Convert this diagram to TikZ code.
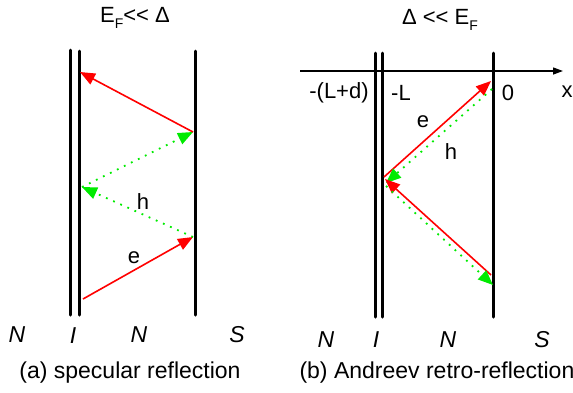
\documentclass[tikz,border=0pt]{standalone}
\usepackage{fontspec}
\setmainfont{Liberation Sans}[Ligatures=NoCommon]
\usetikzlibrary{arrows.meta}
\newcommand{\lltwo}{<\kern0pt<}
\begin{document}
\begin{tikzpicture}[x=1pt,y=-1pt,
  wall/.style={line width=3pt,line cap=round},
  eline/.style={red,line width=1.6pt,-{Triangle[length=15pt,width=12pt]}},
  hline/.style={green,line width=1.8pt,dash pattern=on 1.8pt off 6pt,-{Triangle[length=15pt,width=12pt]}},
  lab/.style={font=\fontsize{22}{24}\selectfont},
  reg/.style={font=\fontsize{23}{25}\selectfont\itshape},
  captext/.style={font=\fontsize{23}{25}\selectfont},
  ttl/.style={font=\fontsize{22}{24}\selectfont}]
\definecolor{green}{RGB}{0,235,0}
\useasboundingbox (0,0) rectangle (573,392);
% ---- left panel
\draw[wall] (70,50) -- (70,315);
\draw[wall] (79,51) -- (79,315);
\draw[wall] (195,51) -- (195,315);
\coordinate (a1) at (83,299);
\coordinate (a2) at (193,237);
\coordinate (a3) at (82,187);
\coordinate (a4) at (193,132);
\coordinate (a5) at (80,72);
\draw[eline] (a1) -- (a2);
\draw[hline] (a2) -- (a3);
\draw[hline] (a3) -- (a4);
\draw[eline] (a4) -- (a5);
\node[lab] (le) at (134,258) {e};
\node[lab] (lh) at (143,202) {h};
\node[ttl] (lt) at (135,18) {E\raisebox{-0.55ex}{\fontsize{14}{14}\selectfont F}\lltwo{} Δ};
\node[reg] (lN1) at (17,335) {N};
\node[reg] (lI) at (73,336) {I};
\node[reg] (lN2) at (139,335) {N};
\node[reg] (lS) at (237,335) {S};
\node[captext] (lc) at (130,373) {(a) specular reflection};
% ---- right panel
\draw[wall] (375,53) -- (375,317);
\draw[wall] (382,53) -- (382,317);
\draw[wall] (493,53) -- (493,317);
\coordinate (x0) at (300,71);
\coordinate (x1) at (563,71);
\draw[line width=1.3pt,-{Triangle[length=10pt,width=7pt]}] (x0) -- (x1);
\node[lab] (m1) at (339,93) {-(L+d)};
\node[lab] (m2) at (401,93) {-L};
\node[lab] (m3) at (508,93) {0};
\node[lab] (m4) at (567,92) {x};
\coordinate (b1) at (384,177);
\coordinate (b2) at (491,81);
\coordinate (b3) at (492,89);
\coordinate (b4) at (386,183);
\coordinate (b5) at (491,275);
\coordinate (b6) at (385,179);
\coordinate (b7) at (386,186);
\coordinate (b8) at (493,285);
\draw[eline] (b1) -- (b2);
\draw[hline] (b3) -- (b4);
\draw[eline] (b5) -- (b6);
\draw[hline] (b7) -- (b8);
\node[lab] (re) at (423,122) {e};
\node[lab] (rh) at (451,152) {h};
\node[ttl] (rt) at (440,20) {Δ \lltwo{} E\raisebox{-0.55ex}{\fontsize{14}{14}\selectfont F}};
\node[reg] (rN1) at (326,340) {N};
\node[reg] (rI) at (376,340) {I};
\node[reg] (rN2) at (448,340) {N};
\node[reg] (rS) at (542,340) {S};
\node[captext,anchor=west] (rc) at (296,373) {(b) Andreev retro-reflection};
\end{tikzpicture}
\end{document}
